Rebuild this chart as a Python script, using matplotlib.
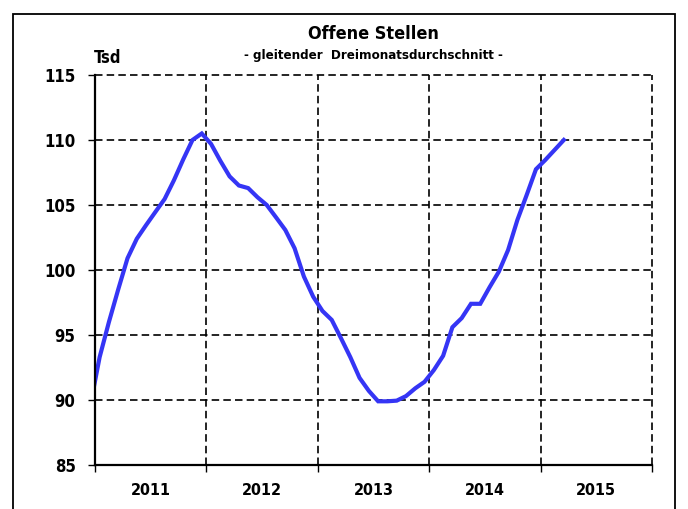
import matplotlib
matplotlib.use("Agg")
import matplotlib.pyplot as plt
import numpy as np
from matplotlib.patches import Rectangle

plt.rcParams['font.family'] = ['DejaVu Sans']
plt.rcParams['font.stretch'] = 'condensed'
plt.rcParams['font.weight'] = 'bold'

# monthly values, Dec 2010 .. Mar 2015 (Tsd), 3-month moving average
start_year = 2010
start_month = 12
values = [89.6,
          93.3, 96.0, 98.5, 100.9, 102.4, 103.45, 104.46, 105.46, 106.9, 108.5, 110.0, 110.5,
          109.7, 108.4, 107.2, 106.5, 106.3, 105.6, 105.0, 104.05, 103.08, 101.67, 99.5, 97.95,
          96.85, 96.16, 94.75, 93.3, 91.7, 90.7, 89.9, 89.9, 89.95, 90.3, 90.9, 91.4,
          92.3, 93.4, 95.6, 96.3, 97.4, 97.4, 98.67, 99.87, 101.54, 103.85, 105.77, 107.75,
          108.46, 109.23, 110.0]
year_labels = ['2011', '2012', '2013', '2014', '2015']
y_ticks = [85, 90, 95, 100, 105, 110, 115]

# x position: middle of each month in year units
months = np.arange(len(values))
x = start_year + (start_month - 1 + months + 0.5) / 12.0

fig = plt.figure(figsize=(6.88, 5.09), dpi=100)
ax = fig.add_axes([95/688, 1 - 465/509, (652 - 95)/688, (465 - 75)/509])

ax.plot(x, values, color='#3535F5', linewidth=3.0, solid_joinstyle='miter', zorder=3, clip_on=True)

ax.set_xlim(2011, 2016)
ax.set_ylim(85, 115)
ax.set_yticks(y_ticks)
ax.set_yticklabels([str(t) for t in y_ticks], fontsize=12, fontweight='bold')

ax.set_xticks(np.arange(2011, 2017))
ax.set_xticklabels([])
ax.set_xticks(np.arange(2011, 2016) + 0.5, minor=True)
ax.set_xticklabels(year_labels, minor=True, fontsize=11.5, fontweight='bold')
ax.tick_params(axis='x', which='minor', length=0, pad=13)
ax.tick_params(axis='x', which='major', length=5, width=1, direction='out', color='black')
ax.tick_params(axis='y', length=5, width=1, direction='out', pad=9)

ax.grid(True, which='major', color='black', linestyle=(0, (4.5, 2.5)), linewidth=1.2)
ax.set_axisbelow(True)
for gl in ax.get_xgridlines() + ax.get_ygridlines():
    gl.set_clip_on(False)

ax.spines['top'].set_visible(False)
ax.spines['right'].set_visible(False)
ax.spines['left'].set_linewidth(1.6)
ax.spines['bottom'].set_linewidth(1.6)
ax.spines['left'].set_zorder(4)
ax.spines['bottom'].set_zorder(4)

fig.text(373/688, 1 - 34/509, 'Offene Stellen', ha='center', va='center',
         fontsize=13, fontweight='bold')
fig.text(373/688, 1 - 56/509, '- gleitender  Dreimonatsdurchschnitt -', ha='center', va='center',
         fontsize=9.5, fontweight='bold')
fig.text(108/688, 1 - 58/509, 'Tsd', ha='center', va='center', fontsize=12, fontweight='bold')

fig.patches.append(Rectangle((13/688, -0.1), (675 - 13)/688, 1.1 - 14/509,
                             transform=fig.transFigure, fill=False,
                             edgecolor='black', linewidth=1.3))

fig.savefig('out.png', dpi=100)
